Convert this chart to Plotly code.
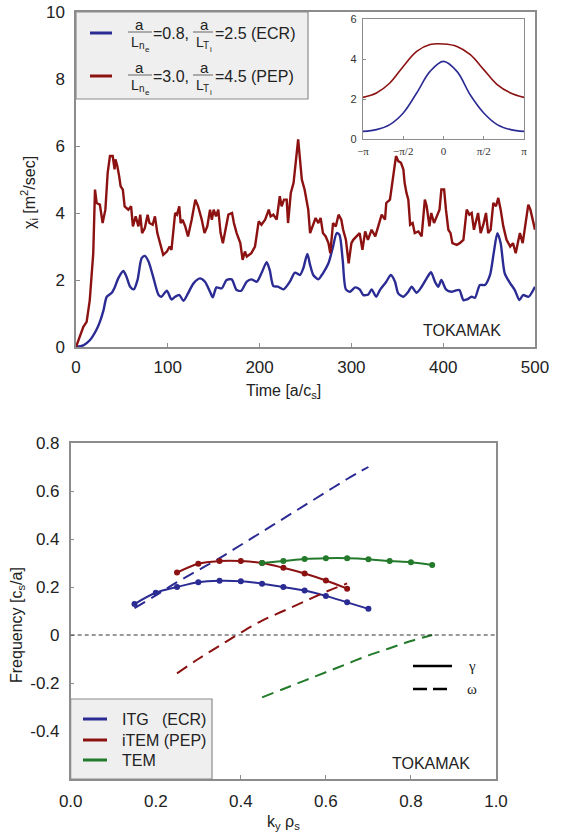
import plotly.graph_objects as go
import numpy as np

W, H = 564, 836
def px(x): return x / W
def py(y): return 1 - y / H

FONT = "Liberation Sans, Arial, Helvetica, sans-serif"
SERIF = "Liberation Serif, Times New Roman, serif"
BLUE = "#2b2b94"
RED = "#8c1111"
GREEN = "#237a2b"
AXC = "#8c8c8c"

# ---------------- top panel: chi_i vs time ----------------
t_red = [0, 8, 11.6, 15, 18.8, 20.7, 22.5, 26, 29, 32, 34.5, 37, 40, 42, 43, 45, 47, 48.6, 51, 53, 57, 60, 62, 65, 68, 70,
         72, 75, 78, 80, 83.5, 86, 88.6, 91.5, 95, 99, 102, 104, 108, 110, 112.5, 114, 116, 119, 122, 126, 130, 133, 137,
         140, 143, 146, 148, 150, 152.5, 155, 157.5, 160, 163, 166, 170, 172, 175, 179, 181.5, 184, 186, 191, 195, 199,
         202, 206, 210, 212, 215, 218.6, 222, 224, 226.6, 229.5, 231, 234, 237, 240, 242, 244, 246, 249, 251, 253, 255,
         258.6, 261, 264, 266.5, 269, 272, 275, 277, 280, 283, 286, 289, 291, 294, 297, 300, 302, 305.6, 309, 312, 315,
         318, 322, 326, 329, 333, 336.6, 338, 342, 345.7, 348.6, 351, 354, 356.6, 358, 360, 362, 364, 366.7, 369, 373,
         376.5, 378, 380, 382, 385, 387, 390, 393, 396, 398, 401, 403, 405.6, 408, 410, 414.7, 418, 422, 425.6, 428.5,
         431, 433.5, 435.7, 438, 440.8, 443.7, 446.6, 449, 451.7, 454.6, 457.5, 460, 462.6, 465.5, 469, 473, 476, 479,
         482, 483.6, 486.6, 489, 492.7, 495, 498, 500]
chi_red = [0, 0.6, 0.75, 1.4, 2.8, 4.7, 4.3, 4.25, 3.7, 4.1, 5.2, 5.7, 5.7, 5.3, 5.6, 5.4, 5.1, 4.8, 4.7, 4.2, 4.1, 4.2, 3.6,
           3.9, 3.6, 3.95, 3.4, 3.55, 3.95, 3.7, 3.65, 3.9, 3.4, 3.1, 2.75, 2.85, 3.0, 2.9, 4.0, 3.95, 4.2, 3.7, 3.8, 3.6,
           3.3, 3.8, 4.4, 4.2, 3.8, 3.4, 3.6, 4.1, 3.8, 4.1, 3.9, 4.1, 3.4, 3.1, 3.5, 3.95, 4.0, 3.7, 3.4, 3.1, 2.6, 2.85,
           2.7, 2.8, 3.0, 3.75, 3.65, 3.8, 4.1, 3.9, 3.95, 3.8, 4.5, 4.2, 4.4, 4.4, 3.7, 4.6, 4.9, 5.7, 6.2, 5.6, 5.0, 4.7,
           4.4, 4.1, 3.4, 3.7, 3.85, 3.7, 3.85, 3.4, 3.3, 3.1, 2.8, 3.7, 3.6, 3.95, 3.8, 3.5, 3.2, 2.5, 3.1, 3.2, 3.3, 3.4,
           2.9, 3.45, 3.2, 3.5, 3.3, 3.6, 3.95, 3.8, 4.3, 4.4, 5.1, 5.7, 5.55, 5.5, 5.3, 4.9, 4.6, 4.4, 3.65, 3.7, 3.4,
           3.45, 3.3, 3.8, 4.4, 4.2, 3.6, 4.0, 3.7, 3.9, 4.1, 4.7, 4.7, 4.1, 3.5, 3.4, 3.1, 3.05, 3.1, 3.2, 4.1, 3.95, 4.0,
           3.5, 3.8, 4.0, 3.4, 3.65, 4.0, 3.4, 3.5, 4.3, 4.2, 4.45, 4.1, 3.6, 3.2, 3.0, 3.1, 2.8, 3.2, 3.4, 3.1, 3.6, 4.25,
           4.1, 3.7, 3.5]

t_blue = [0, 8, 15, 22, 26, 30, 33.5, 39, 42.5, 46, 51.6, 55, 59, 63, 67, 71.5, 75, 79, 84, 90, 93, 99, 104, 108, 112.6,
          117, 122, 128, 135, 140.5, 146, 149, 153, 158.7, 164, 169.6, 175, 180, 186, 191, 197, 202, 207.7, 211, 215,
          220, 226, 233, 238.5, 244, 247.6, 252, 255, 258.5, 264, 269, 275, 279.6, 284, 287, 290.5, 294, 298.5, 304,
          309, 313, 318.5, 322, 327, 331, 338, 343, 347.5, 351, 356.6, 362, 365.6, 371, 376.5, 382, 386.7, 391, 394.7,
          398, 403, 409, 413, 417.6, 422, 426, 431, 434.6, 440, 445.5, 451, 455, 459, 462.6, 467, 473, 478, 483, 487,
          493, 500]
chi_blue = [0, 0.05, 0.2, 0.5, 0.75, 1.1, 1.5, 1.62, 1.8, 2.05, 2.27, 2.1, 1.8, 1.72, 2.0, 2.65, 2.72, 2.55, 2.1, 1.55,
            1.5, 1.68, 1.42, 1.5, 1.55, 1.38, 1.6, 1.9, 2.05, 1.95, 1.65, 1.48, 1.78, 1.75, 2.0, 2.02, 1.7, 1.68, 1.95,
            2.02, 1.95, 2.2, 2.53, 2.3, 1.82, 1.8, 1.72, 1.95, 2.22, 2.15, 2.35, 2.78, 2.45, 2.15, 2.02, 2.2, 2.5, 2.95,
            3.4, 3.35, 2.6, 1.72, 1.65, 1.78, 1.72, 1.55, 1.57, 1.72, 1.5, 1.7, 1.95, 2.15, 1.95, 1.6, 1.5, 1.65, 1.8,
            1.62, 1.8, 2.05, 2.23, 1.95, 1.8, 2.0, 1.72, 1.65, 1.68, 1.7, 1.4, 1.42, 1.5, 1.47, 1.85, 1.85, 2.15, 2.8,
            3.4, 3.1, 2.2, 1.9, 1.7, 1.4, 1.55, 1.5, 1.8]

# ---------------- inset: poloidal profile ----------------
theta_k = [-6, -5, -4, -3, -2, -1, 0, 1, 2, 3, 4, 5, 6]   # multiples of pi/6
inset_blue = [0.38, 0.47, 0.72, 1.3, 2.3, 3.38, 3.88, 3.38, 2.2, 1.3, 0.72, 0.47, 0.38]
inset_red = [2.08, 2.3, 2.8, 3.63, 4.38, 4.72, 4.75, 4.63, 4.22, 3.47, 2.72, 2.3, 2.08]
inset_ticktext = ["\u2212\u03c0", "\u2212\u03c0/2", "0", "\u03c0/2", "\u03c0"]

# ---------------- bottom panel: linear spectra ----------------
ky_itg = [0.15, 0.2, 0.25, 0.3, 0.35, 0.4, 0.45, 0.5, 0.55, 0.6, 0.65, 0.7]
gam_itg = [0.129, 0.176, 0.2, 0.22, 0.226, 0.224, 0.214, 0.2, 0.185, 0.163, 0.136, 0.109]
om_itg = [0.112, 0.165, 0.22, 0.27, 0.32, 0.375, 0.43, 0.485, 0.54, 0.595, 0.65, 0.70]

ky_item = [0.25, 0.3, 0.35, 0.4, 0.45, 0.5, 0.55, 0.6, 0.65]
gam_item = [0.26, 0.297, 0.308, 0.308, 0.3, 0.28, 0.256, 0.227, 0.193]
om_item = [-0.16, -0.1, -0.045, 0.01, 0.06, 0.1, 0.14, 0.18, 0.215]

ky_tem = [0.45, 0.5, 0.55, 0.6, 0.65, 0.7, 0.75, 0.8, 0.85]
gam_tem = [0.3, 0.308, 0.317, 0.32, 0.32, 0.316, 0.308, 0.303, 0.292]
om_tem = [-0.26, -0.225, -0.19, -0.155, -0.12, -0.085, -0.055, -0.025, 0.0]

bot_yticks = [0.8, 0.6, 0.4, 0.2, 0, -0.2, -0.4]
bot_yticktext = ["0.8", "0.6", "0.4", "0.2", "0", "-0.2", "-0.4"]

fig = go.Figure()

fig.add_trace(go.Scatter(x=t_blue, y=chi_blue, mode="lines", line=dict(color=BLUE, width=2.4, shape="spline", smoothing=0.7),
                         xaxis="x", yaxis="y", showlegend=False))
fig.add_trace(go.Scatter(x=t_red, y=chi_red, mode="lines", line=dict(color=RED, width=2.4),
                         xaxis="x", yaxis="y", showlegend=False))

th = [k * np.pi / 6 for k in theta_k]
fig.add_trace(go.Scatter(x=th, y=inset_red, mode="lines", line=dict(color=RED, width=1.6, shape="spline"),
                         xaxis="x3", yaxis="y3", showlegend=False))
fig.add_trace(go.Scatter(x=th, y=inset_blue, mode="lines", line=dict(color=BLUE, width=1.6, shape="spline"),
                         xaxis="x3", yaxis="y3", showlegend=False))

DASH = "12px,7px"
for ky, gm, om, col in [(ky_itg, gam_itg, om_itg, BLUE), (ky_item, gam_item, om_item, RED), (ky_tem, gam_tem, om_tem, GREEN)]:
    fig.add_trace(go.Scatter(x=ky, y=om, mode="lines", line=dict(color=col, width=2, dash=DASH, shape="spline"),
                             xaxis="x2", yaxis="y2", showlegend=False))
    fig.add_trace(go.Scatter(x=ky, y=gm, mode="lines+markers", line=dict(color=col, width=2, shape="spline"),
                             marker=dict(color=col, size=6), xaxis="x2", yaxis="y2", showlegend=False))

axis_common = dict(showline=True, linecolor=AXC, linewidth=1.5, mirror=True, ticks="inside", ticklen=4,
                   tickcolor=AXC, showgrid=False, zeroline=False, automargin=False,
                   tickfont=dict(size=17, color="#222", family=FONT))
inset_common = dict(showline=True, linecolor=AXC, linewidth=1.2, mirror=True, ticks="inside", ticklen=3,
                    tickcolor=AXC, showgrid=False, zeroline=False, automargin=False)

fig.update_layout(
    template="none",
    width=W, height=H, margin=dict(l=0, r=0, t=0, b=0, pad=0),
    paper_bgcolor="white", plot_bgcolor="white", font=dict(family=FONT, color="#222"),
    xaxis=dict(domain=[px(76), px(535)], anchor="y", range=[0, 500], tickvals=[0, 100, 200, 300, 400, 500],
               ticklabelstandoff=4, **axis_common),
    yaxis=dict(domain=[py(347), py(12)], anchor="x", range=[0, 10], tickvals=[0, 2, 4, 6, 8, 10],
               ticklabelstandoff=6, **axis_common),
    xaxis2=dict(domain=[px(70.7), px(496)], anchor="y2", range=[0, 1], tickvals=[0, 0.2, 0.4, 0.6, 0.8, 1.0],
                tickformat=".1f", ticklabelstandoff=6, **axis_common),
    yaxis2=dict(domain=[py(779), py(443)], anchor="x2", range=[-0.6, 0.8], tickvals=bot_yticks, ticktext=bot_yticktext,
                ticklabelstandoff=6, **axis_common),
    xaxis3=dict(domain=[px(363), px(524)], anchor="y3", range=[-np.pi, np.pi],
                tickvals=[-np.pi, -np.pi / 2, 0, np.pi / 2, np.pi], ticktext=inset_ticktext,
                tickfont=dict(size=11, color="#333", family=SERIF), ticklabelstandoff=2, **inset_common),
    yaxis3=dict(domain=[py(139), py(19)], anchor="x3", range=[0, 6], tickvals=[0, 2, 4, 6],
                tickfont=dict(size=11, color="#333", family=FONT), ticklabelstandoff=3, **inset_common),
)

shapes = []
annos = []

def anno(x, y, text, size=16, xanchor="center", family=FONT, angle=0, color="#222"):
    annos.append(dict(x=px(x), y=py(y), xref="paper", yref="paper", text=text, showarrow=False,
                      xanchor=xanchor, yanchor="middle", font=dict(size=size, family=family, color=color),
                      textangle=angle))

def hline(x0, x1, y, color, width=2.5, dash=None):
    ln = dict(color=color, width=width)
    if dash:
        ln["dash"] = dash
    shapes.append(dict(type="line", xref="paper", yref="paper", x0=px(x0), x1=px(x1), y0=py(y), y1=py(y), line=ln))

# top legend box
shapes.append(dict(type="rect", xref="paper", yref="paper", x0=px(76), x1=px(308), y0=py(99), y1=py(12),
                   fillcolor="#efefef", line=dict(color=AXC, width=1.2), layer="above"))
leg_vals = [("0.8", "2.5 (ECR)", BLUE, 33), ("3.0", "4.5 (PEP)", RED, 76)]
for v1, v2, col, y0 in leg_vals:
    hline(90, 112, y0, col, 3)
    # fraction a / L_{n_e}
    anno(139, y0 - 9, "a", 15)
    hline(128, 152, y0 - 1, "#444", 0.8)
    anno(129, y0 + 9, "L", 14, "left")
    anno(136.5, y0 + 12.5, "n", 10, "left")
    anno(142.5, y0 + 16, "e", 8, "left")
    anno(151, y0, "=" + v1 + ",", 16, "left")
    # fraction a / L_{T_i}
    anno(204, y0 - 9, "a", 15)
    hline(193, 213, y0 - 1, "#444", 0.8)
    anno(194, y0 + 9, "L", 14, "left")
    anno(201.5, y0 + 12.5, "T", 10, "left")
    anno(208, y0 + 16, "i", 8, "left")
    anno(213, y0, "=" + v2, 16, "left")

# axis titles
anno(29, 193, "\u03c7<sub>i</sub> [m<sup>2</sup>/sec]", 16, angle=-90)
anno(283, 391, "Time [a/c<sub>s</sub>]", 16)
anno(462, 330, "TOKAMAK", 16)

anno(17, 625, "Frequency [c<sub>s</sub>/a]", 16, angle=-90)
anno(283, 822, "k<sub>y</sub> \u03c1<sub>s</sub>", 16)
anno(431, 763, "TOKAMAK", 16)

# zero line
shapes.append(dict(type="line", xref="x2 domain", yref="y2", x0=0, x1=1, y0=0, y1=0,
                   line=dict(color="#333", width=1, dash="4px,3px")))

# bottom legend box
shapes.append(dict(type="rect", xref="paper", yref="paper", x0=px(70.7), x1=px(212), y0=py(779), y1=py(699),
                   fillcolor="#efefef", line=dict(color=AXC, width=1.2), layer="above"))
for lab, col, yy in [("ITG   (ECR)", BLUE, 719), ("iTEM (PEP)", RED, 740), ("TEM", GREEN, 760)]:
    hline(83, 107, yy, col, 3)
    anno(120, yy, lab, 16, "left")

# gamma / omega legend
hline(413, 452, 666, "black", 2.5)
hline(413, 452, 689, "black", 2.5, "14px,6px")
anno(466, 666, "\u03b3", 15, "left", SERIF)
anno(465, 689, "\u03c9", 15, "left", SERIF)

fig.update_layout(shapes=shapes, annotations=annos)
fig.write_html("out.html", config={"displayModeBar": False},
               post_script="document.body.style.margin='0';document.body.style.overflow='hidden';")
